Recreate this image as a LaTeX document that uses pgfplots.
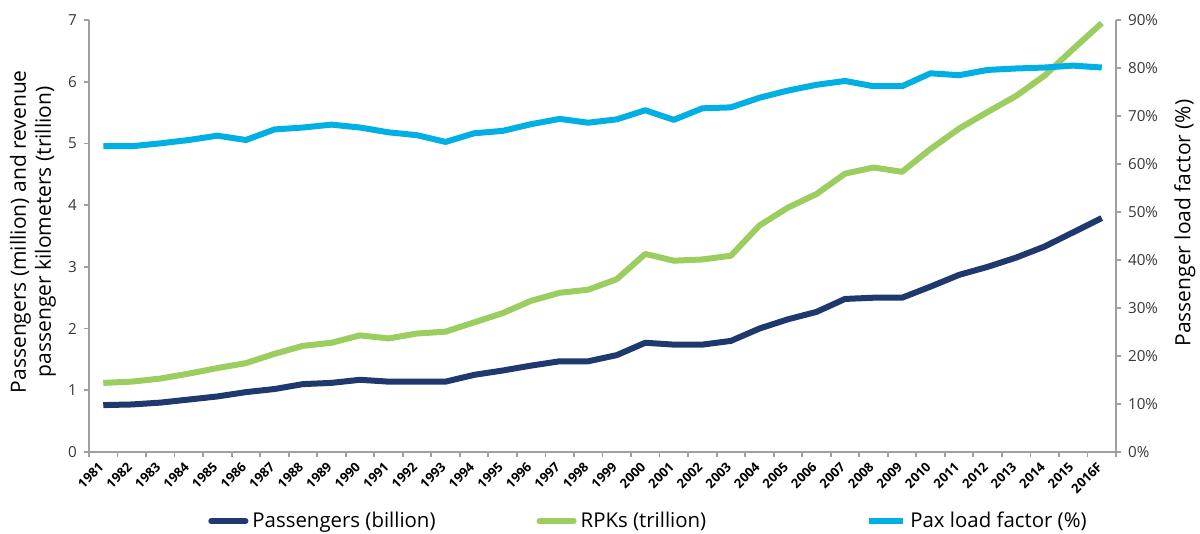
\documentclass[border=0pt]{standalone}
\usepackage{pgfplots}
\usepackage{pgfplotstable}
\pgfplotsset{compat=1.18}
\usepackage{fontspec}
\setmainfont{Open Sans}

\definecolor{paxnavy}{RGB}{31,56,110}
\definecolor{rpkgreen}{RGB}{155,205,95}
\definecolor{lfblue}{RGB}{0,176,228}
\definecolor{axgray}{RGB}{160,160,160}
\definecolor{txtgray}{RGB}{55,55,55}

% passengers (billion), RPKs (trillion), load factor (%)
\pgfplotstableread{
idx pax rpk lf
0 0.76 1.12 63.7
1 0.77 1.14 63.7
2 0.80 1.19 64.3
3 0.85 1.27 65.0
4 0.90 1.36 65.9
5 0.97 1.44 65.0
6 1.02 1.59 67.2
7 1.10 1.72 67.6
8 1.12 1.77 68.2
9 1.17 1.89 67.6
10 1.14 1.84 66.6
11 1.14 1.92 66.0
12 1.14 1.95 64.6
13 1.25 2.10 66.4
14 1.32 2.25 66.9
15 1.40 2.45 68.3
16 1.47 2.58 69.4
17 1.47 2.63 68.6
18 1.57 2.80 69.3
19 1.77 3.21 71.2
20 1.74 3.10 69.2
21 1.74 3.12 71.6
22 1.80 3.18 71.8
23 2.00 3.67 73.8
24 2.15 3.96 75.3
25 2.27 4.18 76.5
26 2.48 4.51 77.3
27 2.50 4.61 76.2
28 2.50 4.54 76.2
29 2.68 4.91 78.9
30 2.87 5.24 78.5
31 3.00 5.51 79.6
32 3.15 5.77 79.9
33 3.33 6.10 80.1
34 3.56 6.53 80.5
35 3.79 6.95 80.1
}\traffic

\pgfplotsset{
  common/.style={
    width=513.5pt, height=216pt, scale only axis,
    xmin=-0.5, xmax=35.5,
    axis line style={axgray, line width=1.3pt, -},
    tick align=outside,
    major tick length=2.5pt,
    tick style={axgray, line width=0.9pt},
    /pgf/number format/assume math mode=true,
    yticklabel style={text=txtgray, font=\fontsize{7.6}{9}\selectfont},
    ylabel style={font=\fontsize{10.5}{12.5}\selectfont, text=black, align=center},
  },
}

\begin{document}
\begin{tikzpicture}
\path[use as bounding box] (-44.5pt,-41pt) rectangle (555.5pt,226pt);
\begin{axis}[
  common,
  axis x line*=bottom, axis y line*=left,
  ymin=0, ymax=7, ytick={0,1,...,7},
  xtick={0,1,...,35},
  xticklabels={1981,1982,1983,1984,1985,1986,1987,1988,1989,1990,1991,1992,1993,1994,1995,1996,1997,1998,1999,2000,2001,2002,2003,2004,2005,2006,2007,2008,2009,2010,2011,2012,2013,2014,2015,2016F},
  major x tick style={draw=none},
  minor xtick={-0.5,0.5,...,35.5},
  minor tick length=2.5pt,
  minor x tick style={axgray, line width=0.9pt},
  xticklabel style={rotate=45, anchor=east, font=\bfseries\fontsize{6.5}{7}\selectfont, text=black, yshift=-2pt},
  ylabel={Passengers (million) and revenue\\passenger kilometers (trillion)},
  ylabel style={at={(axis description cs:-0.0545,0.51)}, anchor=center},
]
\addplot[paxnavy, line width=3pt, line join=round] table[x=idx, y=pax] {\traffic};
\addplot[rpkgreen, line width=3pt, line join=round] table[x=idx, y=rpk] {\traffic};
\end{axis}
\begin{axis}[
  common,
  axis y line*=right, axis x line=none,
  ymin=0, ymax=90, ytick={0,10,...,90},
  yticklabel={\pgfmathprintnumber{\tick}\%},
  ylabel={Passenger load factor (\%)},
  ylabel style={at={(axis description cs:1.067,0.53)}, anchor=center},
  legend columns=3,
  legend style={draw=none, fill=none, inner sep=0pt,
    font=\fontsize{10.2}{12}\selectfont, text=black,
    at={(axis description cs:0.1158,-0.1597)}, anchor=west,
    /tikz/column 2/.style={column sep=48.5pt},
    /tikz/column 4/.style={column sep=78pt}},
]
\addlegendimage{paxnavy, line width=3pt, line cap=round}
\addlegendentry{Passengers (billion)}
\addlegendimage{rpkgreen, line width=3pt, line cap=round}
\addlegendentry{RPKs (trillion)}
\addplot[lfblue, line width=3pt, line join=round] table[x=idx, y=lf] {\traffic};
\addlegendentry{Pax load factor (\%)}
\end{axis}
\end{tikzpicture}
\end{document}
